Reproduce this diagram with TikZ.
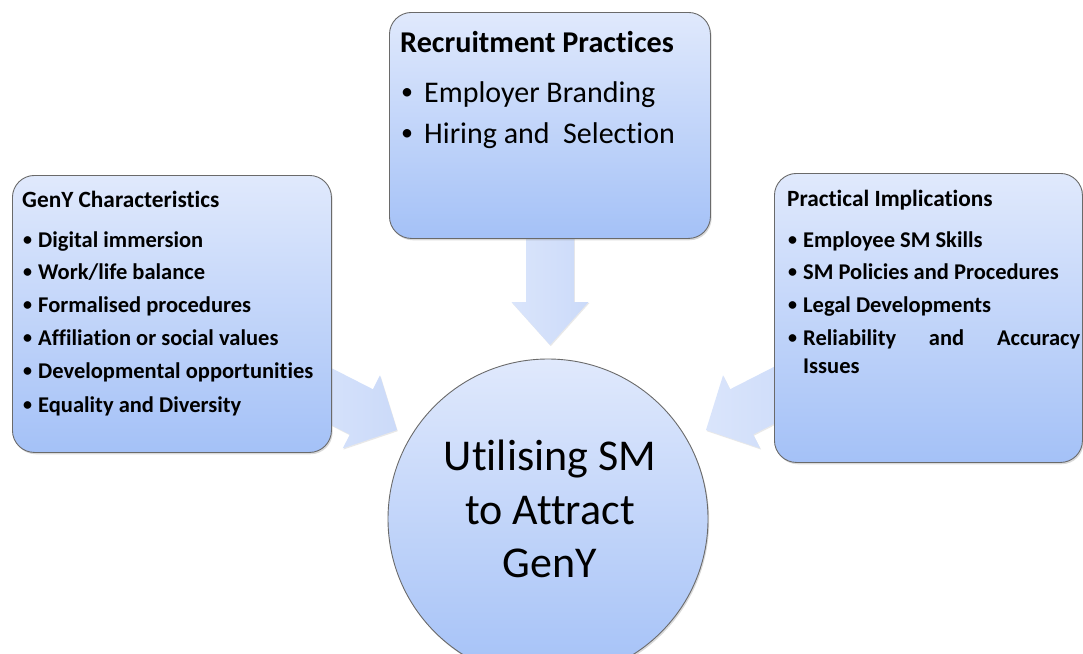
\documentclass[tikz,border=0pt]{standalone}
\usepackage{fontspec}
\setmainfont{Carlito}[Ligatures={TeX,NoCommon}]
\usetikzlibrary{shadows}

\definecolor{boxtop}{HTML}{E0E9FC}
\definecolor{boxbot}{HTML}{A4C1F7}
\definecolor{edgegray}{HTML}{6A6A6A}
\definecolor{arrlight}{HTML}{DAE5FB}
\definecolor{arrdark}{HTML}{CBDAF9}

% block arrow pointing along +x with its tip at the origin
% #1 head length, #2 head half width, #3 shaft half width, #4 total length
\newcommand\blockarrowpath[4]{(0,0) -- (-#1,#2) -- (-#1,#3) -- (-#4,#3) -- (-#4,-#3) -- (-#1,-#3) -- (-#1,-#2) -- cycle}
% a slightly smaller list bullet in a box of the given width
\newcommand\listdot[1]{\makebox[#1][l]{\raisebox{0.07em}{\scalebox{0.8}{\textbullet}}}}

\begin{document}
\begin{tikzpicture}[x=1pt,y=-1pt,
  panel/.style={draw=edgegray, line width=0.9pt, rounded corners=22pt,
    top color=boxtop, bottom color=boxbot,
    drop shadow={opacity=0.3, shadow xshift=1.2pt, shadow yshift=-1.8pt},
    inner sep=0pt, anchor=north west},
  hub/.style={circle, draw=edgegray, line width=0.9pt,
    top color=boxtop, bottom color=boxbot,
    drop shadow={opacity=0.3, shadow xshift=1.2pt, shadow yshift=-1.8pt},
    inner sep=0pt, minimum size=320pt},
  flow/.style={left color=arrlight, right color=arrdark, draw=none,
    drop shadow={opacity=0.18, shadow xshift=0.8pt, shadow yshift=-1.2pt}},
  smalltitle/.style={anchor=base west, inner sep=0pt, font=\fontsize{23.3}{28}\selectfont\bfseries},
  smalltxt/.style={anchor=base west, inner sep=0pt, font=\fontsize{22.5}{27}\selectfont\bfseries},
  bigtitle/.style={anchor=base west, inner sep=0pt, font=\fontsize{30.2}{36}\selectfont\bfseries},
  bigtxt/.style={anchor=base west, inner sep=0pt, font=\fontsize{30}{36}\selectfont},
  hubtxt/.style={anchor=base, inner sep=0pt, font=\fontsize{44}{54}\selectfont}]

\useasboundingbox (0,0) rectangle (1083,653);
\clip (0,0) rectangle (1083,653);

% block arrows feeding the central circle
\begin{scope}[shift={(397,430)}, rotate=-27]
  \path[flow] \blockarrowpath{40}{41}{25.4}{110};
\end{scope}
\begin{scope}[shift={(706,430)}, rotate=-153]
  \path[flow] \blockarrowpath{40}{41}{25.4}{110};
\end{scope}
\begin{scope}[shift={(550,345)}, rotate=-90]
  \path[flow] \blockarrowpath{43}{38.5}{24}{120};
\end{scope}

% panels
\node[panel, minimum width=319pt, minimum height=277pt] (geny) at (12,175) {};
\node[panel, minimum width=321pt, minimum height=226pt] (recruit) at (389,12) {};
\node[panel, minimum width=308pt, minimum height=289pt] (practical) at (774,173) {};
\node[hub] (core) at (548,519) {};

% GenY characteristics
\node[smalltitle] (genyT) at (22,207) {GenY Characteristics};
\node[smalltxt] (geny1) at (23,247) {\listdot{15pt}Digital immersion};
\node[smalltxt] (geny2) at (23,279) {\listdot{15pt}Work/life balance};
\node[smalltxt] (geny3) at (23,312) {\listdot{15pt}Formalised procedures};
\node[smalltxt] (geny4) at (23,345) {\listdot{15pt}Affiliation or social values};
\node[smalltxt] (geny5) at (23,378) {\listdot{15pt}Developmental opportunities};
\node[smalltxt] (geny6) at (23,412) {\listdot{15pt}Equality and Diversity};

% recruitment practices
\node[bigtitle] (recT) at (400,52) {Recruitment Practices};
\node[bigtxt] (rec1) at (401,102) {\listdot{23pt}Employer Branding};
\node[bigtxt] (rec2) at (401,143) {\listdot{23pt}Hiring and\ \ Selection};

% practical implications
\node[smalltitle] (pracT) at (787,206) {Practical Implications};
\node[smalltxt] (prac1) at (788,247) {\listdot{15pt}Employee SM Skills};
\node[smalltxt] (prac2) at (788,279) {\listdot{15pt}SM Policies and Procedures};
\node[smalltxt] (prac3) at (788,312) {\listdot{15pt}Legal Developments};
\node[smalltxt] (prac4) at (788,345) {\listdot{15pt}\makebox[277pt][s]{Reliability\hfill and\hfill Accuracy}};
\node[smalltxt] (prac4b) at (803,373) {Issues};

% central statement
\node[hubtxt] (hub1) at (550,470) {Utilising SM};
\node[hubtxt] (hub2) at (550,524) {to Attract};
\node[hubtxt] (hub3) at (550,577) {GenY};

\end{tikzpicture}
\end{document}
